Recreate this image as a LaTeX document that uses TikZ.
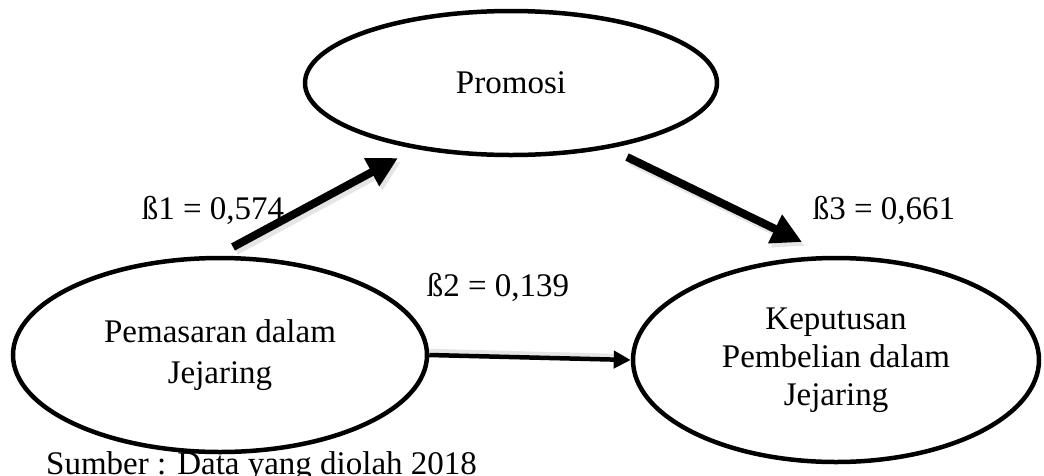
\documentclass[tikz,border=0pt]{standalone}
\usepackage{fontspec}
\setmainfont{Liberation Serif}
\usetikzlibrary{shapes.geometric,arrows.meta}
\begin{document}
\begin{tikzpicture}[x=1pt,y=-1pt,
  txt/.style={font=\fontsize{33}{38}\selectfont, inner sep=0pt, align=center},
  var/.style={ellipse, draw, line width=4.5pt, inner sep=0pt, txt},
  thick arrow/.style={line width=8pt, -{Triangle[length=30pt,width=30pt]}},
  thin arrow/.style={line width=4.5pt, -{Triangle[length=17pt,width=17pt]}},
  shadowline/.style={draw=black!20, fill=black!20, opacity=0.5}
]
\useasboundingbox (0,0) rectangle (1044,475);
\node[var, minimum width=412pt, minimum height=144pt] (promosi) at (511,83) {Promosi};
\node[var, minimum width=414pt, minimum height=194pt] (pemasaran) at (220,355) {Pemasaran dalam\\[3pt]Jejaring};
\node[var, minimum width=406pt, minimum height=204pt] (keputusan) at (836,360) {Keputusan\\Pembelian dalam\\Jejaring};

\coordinate (a1s) at (233,247);
\coordinate (a1e) at (398,158);
\coordinate (a2s) at (627,157);
\coordinate (a2e) at (802,242);
\coordinate (a1ss) at (236,251);
\coordinate (a1es) at (401,162);
\coordinate (a2ss) at (630,161);
\coordinate (a2es) at (805,246);

\draw[shadowline, thick arrow] (a1ss) -- (a1es);
\draw[shadowline, thick arrow] (a2ss) -- (a2es);
\draw[thick arrow] (a1s) -- (a1e);
\draw[thick arrow] (a2s) -- (a2e);
\draw[black!20, opacity=0.5, line width=4.5pt] ([yshift=4pt]pemasaran.east) -- ([yshift=4pt,xshift=-14pt]keputusan.west);
\draw[thin arrow] (pemasaran.east) -- (keputusan.west);

\node[txt, anchor=base] (b1) at (213,219) {ß1 = 0,574};
\node[txt, anchor=base] (b3) at (884,219) {ß3 = 0,661};
\node[txt, anchor=base] (b2) at (498,296) {ß2 = 0,139};
\node[txt, anchor=base west] (src) at (46,474) {Sumber : Data yang diolah 2018};
\end{tikzpicture}
\end{document}
